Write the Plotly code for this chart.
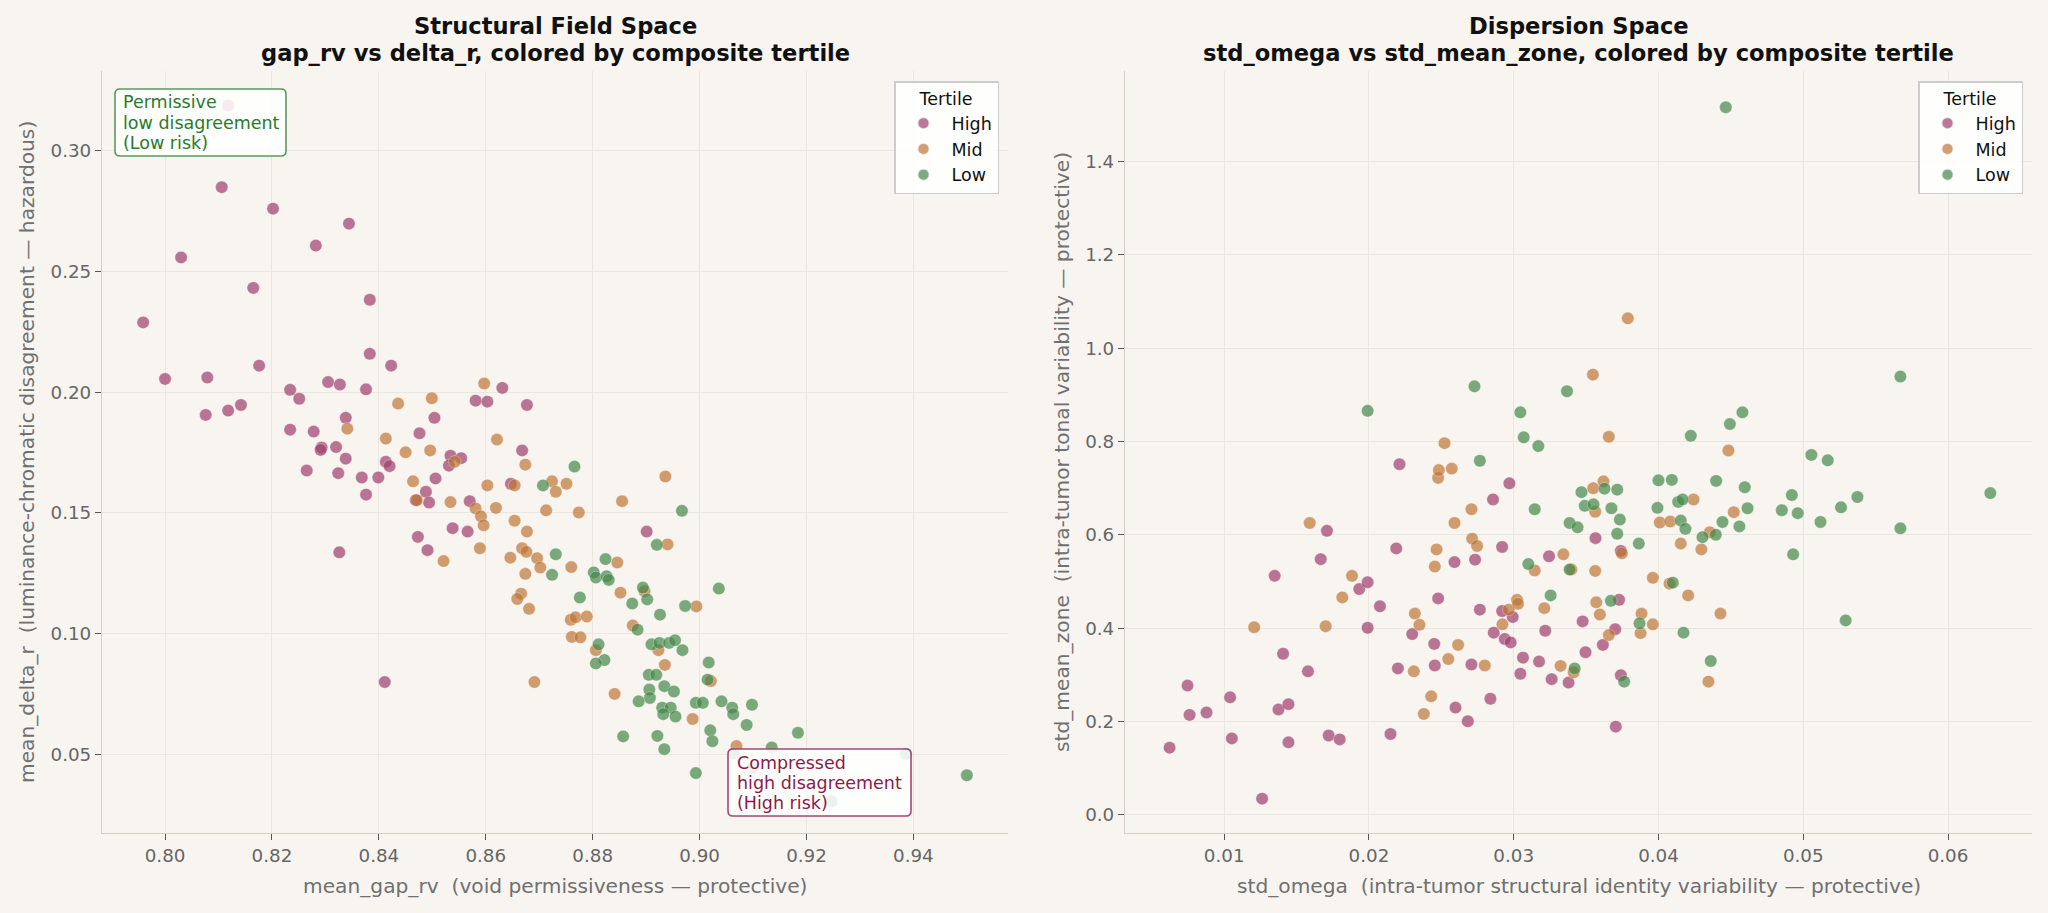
import plotly.graph_objects as go

# ---------------- data: left panel (mean_gap_rv vs mean_delta_r) ----------------
left_high_x = [0.8118, 0.8106, 0.8202, 0.8344, 0.8282, 0.8030, 0.8165, 0.8383, 0.7959, 0.8383,
               0.8176, 0.8423, 0.8000, 0.8079, 0.8305, 0.8327, 0.8234, 0.8376, 0.8251, 0.8076,
               0.8118, 0.8142, 0.8338, 0.8234, 0.8278, 0.8293, 0.8291, 0.8320, 0.8338, 0.8265,
               0.8324, 0.8368, 0.8399, 0.8376, 0.8326, 0.8411, 0.8413, 0.8420, 0.8476, 0.8504,
               0.8506, 0.8488, 0.8494, 0.8473, 0.8491, 0.8534, 0.8554, 0.8531, 0.8538, 0.8566,
               0.8570, 0.8581, 0.8603, 0.8631, 0.8677, 0.8668, 0.8647, 0.8469, 0.8901]
left_high_y = [0.3187, 0.2849, 0.2760, 0.2698, 0.2607, 0.2558, 0.2432, 0.2383, 0.2289, 0.2159,
               0.2110, 0.2110, 0.2055, 0.2061, 0.2042, 0.2032, 0.2010, 0.2012, 0.1973, 0.1906,
               0.1924, 0.1947, 0.1894, 0.1845, 0.1837, 0.1771, 0.1761, 0.1773, 0.1725, 0.1676,
               0.1665, 0.1647, 0.1647, 0.1576, 0.1337, 0.0800, 0.1712, 0.1694, 0.1830, 0.1894,
               0.1643, 0.1588, 0.1543, 0.1401, 0.1346, 0.1737, 0.1727, 0.1696, 0.1437, 0.1423,
               0.1549, 0.1965, 0.1961, 0.2018, 0.1947, 0.1759, 0.1621, 0.1553, 0.1423]

left_mid_x = [0.8341, 0.8436, 0.8499, 0.8413, 0.8450, 0.8496, 0.8464, 0.8471, 0.8542, 0.8597,
              0.8621, 0.8603, 0.8534, 0.8581, 0.8591, 0.8596, 0.8619, 0.8589, 0.8521, 0.8654,
              0.8674, 0.8654, 0.8677, 0.8668, 0.8676, 0.8646, 0.8696, 0.8702, 0.8674, 0.8666,
              0.8659, 0.8681, 0.8691, 0.8724, 0.8731, 0.8713, 0.8751, 0.8774, 0.8760, 0.8759,
              0.8768, 0.8789, 0.8761, 0.8777, 0.8936, 0.8855, 0.8846, 0.8852, 0.8897, 0.8875,
              0.8806, 0.8841, 0.8940, 0.8923, 0.8935, 0.8994, 0.9021, 0.8987, 0.9069]
left_mid_y = [0.1849, 0.1953, 0.1975, 0.1808, 0.1751, 0.1759, 0.1631, 0.1553, 0.1712, 0.2036,
              0.1804, 0.1614, 0.1545, 0.1519, 0.1486, 0.1449, 0.1521, 0.1354, 0.1301, 0.1614,
              0.1700, 0.1468, 0.1423, 0.1354, 0.1339, 0.1315, 0.1313, 0.1274, 0.1248, 0.1166,
              0.1144, 0.1103, 0.0800, 0.1631, 0.1588, 0.1511, 0.1621, 0.1502, 0.1276, 0.1058,
              0.1068, 0.1071, 0.0987, 0.0985, 0.1651, 0.1549, 0.1295, 0.1170, 0.1176, 0.1034,
              0.0932, 0.0751, 0.1370, 0.0932, 0.0871, 0.1113, 0.0804, 0.0647, 0.0535]

left_low_x = [0.8707, 0.8731, 0.8724, 0.8766, 0.8776, 0.8967, 0.8920, 0.8824, 0.8802, 0.8806,
              0.8826, 0.8830, 0.8894, 0.8902, 0.8874, 0.8926, 0.8973, 0.9036, 0.8884, 0.8811,
              0.8822, 0.8806, 0.8910, 0.8925, 0.8943, 0.8954, 0.8968, 0.9017, 0.9015, 0.8905,
              0.8919, 0.8934, 0.8952, 0.8906, 0.8907, 0.8886, 0.8930, 0.8946, 0.8932, 0.8955,
              0.8993, 0.9006, 0.9041, 0.9061, 0.9063, 0.9098, 0.9088, 0.9020, 0.9024, 0.8857,
              0.8921, 0.8934, 0.9184, 0.9135, 0.9064, 0.9386, 0.8993, 0.9500, 0.9247, 0.9100]
left_low_y = [0.1614, 0.1329, 0.1244, 0.1692, 0.1150, 0.1509, 0.1368, 0.1309, 0.1254, 0.1233,
              0.1238, 0.1223, 0.1191, 0.1142, 0.1125, 0.1079, 0.1115, 0.1187, 0.1017, 0.0956,
              0.0891, 0.0877, 0.0956, 0.0962, 0.0962, 0.0973, 0.0932, 0.0881, 0.0810, 0.0830,
              0.0830, 0.0783, 0.0761, 0.0769, 0.0734, 0.0720, 0.0694, 0.0694, 0.0667, 0.0657,
              0.0714, 0.0714, 0.0720, 0.0694, 0.0667, 0.0706, 0.0622, 0.0600, 0.0555, 0.0575,
              0.0577, 0.0522, 0.0590, 0.0529, 0.0504, 0.0502, 0.0423, 0.0414, 0.0306, 0.0445]

# ---------------- data: right panel (std_omega vs std_mean_zone) ----------------
right_high_x = [0.00623, 0.00747, 0.00761, 0.00878, 0.01041, 0.01053, 0.01262, 0.01349, 0.01407, 0.01375,
                0.01444, 0.01444, 0.01579, 0.01667, 0.01710, 0.01722, 0.01798, 0.01933, 0.01991, 0.01991,
                0.02076, 0.02149, 0.02189, 0.02211, 0.02200, 0.02299, 0.02451, 0.02455, 0.02478, 0.02591,
                0.02598, 0.02683, 0.02708, 0.02733, 0.02766, 0.02839, 0.02857, 0.02862, 0.02920, 0.02970,
                0.02920, 0.02993, 0.02938, 0.02979, 0.03046, 0.03064, 0.03175, 0.03218, 0.03244, 0.03262,
                0.03379, 0.03476, 0.03496, 0.03565, 0.03740, 0.03728, 0.03701, 0.03616, 0.03740, 0.03705]
right_high_y = [0.1438, 0.2770, 0.2141, 0.2193, 0.2518, 0.1637, 0.0346, 0.5121, 0.3452, 0.2256,
                0.2371, 0.1553, 0.3075, 0.5478, 0.6086, 0.1700, 0.1616, 0.4837, 0.4984, 0.4008,
                0.4470, 0.1731, 0.5708, 0.7513, 0.3137, 0.3872, 0.3662, 0.3200, 0.4638, 0.5415,
                0.2298, 0.2004, 0.3221, 0.5467, 0.4397, 0.2487, 0.6758, 0.3903, 0.5740, 0.7104,
                0.4365, 0.4239, 0.3767, 0.3694, 0.3022, 0.3368, 0.3284, 0.3945, 0.5540, 0.2907,
                0.2833, 0.4145, 0.3484, 0.5929, 0.5656, 0.4607, 0.3977, 0.3641, 0.2991, 0.1889]

right_mid_x = [0.01207, 0.01591, 0.01701, 0.01816, 0.01883, 0.02317, 0.02349, 0.02310, 0.02379, 0.02430,
               0.02455, 0.02467, 0.02478, 0.02483, 0.02522, 0.02572, 0.02591, 0.02548, 0.02616, 0.02708,
               0.02713, 0.02747, 0.02800, 0.02922, 0.02966, 0.03023, 0.03030, 0.03145, 0.03211, 0.03343,
               0.03398, 0.03324, 0.03414, 0.03788, 0.03547, 0.03657, 0.04483, 0.03620, 0.03549, 0.03563,
               0.04242, 0.04009, 0.04081, 0.04520, 0.04354, 0.04154, 0.04296, 0.03747, 0.03563, 0.03961,
               0.04076, 0.04205, 0.03570, 0.03595, 0.03883, 0.03961, 0.04428, 0.03657, 0.03876, 0.04345]
right_mid_y = [0.4019, 0.6254, 0.4040, 0.4659, 0.5121, 0.4313, 0.4071, 0.3075, 0.2162, 0.2539,
               0.5320, 0.5687, 0.7219, 0.7387, 0.7964, 0.7419, 0.6254, 0.3337, 0.3641, 0.6548,
               0.5918, 0.5761, 0.3200, 0.4082, 0.4397, 0.4607, 0.4523, 0.5236, 0.4428, 0.5582,
               0.5257, 0.3190, 0.3054, 1.0640, 0.9433, 0.8101, 0.7807, 0.7146, 0.6999, 0.6495,
               0.6758, 0.6264, 0.6285, 0.6485, 0.6055, 0.5813, 0.5687, 0.5603, 0.5226, 0.5079,
               0.4953, 0.4701, 0.4554, 0.4292, 0.4313, 0.4082, 0.4313, 0.3851, 0.3893, 0.2854]

right_low_x = [0.01991, 0.02729, 0.02766, 0.03046, 0.03069, 0.03170, 0.03145, 0.03101, 0.03255, 0.03368,
               0.03386, 0.03441, 0.03386, 0.03421, 0.04465, 0.05671, 0.04580, 0.04493, 0.04223, 0.05056,
               0.05169, 0.04000, 0.04092, 0.04398, 0.04596, 0.04921, 0.05374, 0.06292, 0.03468, 0.03627,
               0.03715, 0.03491, 0.03551, 0.03675, 0.03993, 0.04136, 0.04166, 0.04615, 0.04852, 0.04962,
               0.05261, 0.03733, 0.04154, 0.04186, 0.04442, 0.04559, 0.05119, 0.05671, 0.03715, 0.04304,
               0.04396, 0.03864, 0.04930, 0.04099, 0.03671, 0.03869, 0.04173, 0.05293, 0.04361, 0.03763]
right_low_y = [0.8657, 0.9182, 0.7587, 0.8625, 0.8090, 0.7901, 0.6548, 0.5373, 0.4701, 0.9077,
               0.6254, 0.6160, 0.5257, 0.3137, 1.5163, 0.9391, 0.8625, 0.8374, 0.8122, 0.7713,
               0.7597, 0.7167, 0.7177, 0.7156, 0.7020, 0.6852, 0.6810, 0.6894, 0.6915, 0.6989,
               0.6968, 0.6621, 0.6653, 0.6569, 0.6579, 0.6705, 0.6758, 0.6569, 0.6527, 0.6464,
               0.6590, 0.6327, 0.6306, 0.6128, 0.6275, 0.6180, 0.6275, 0.6139, 0.6023, 0.5950,
               0.6002, 0.5813, 0.5582, 0.4974, 0.4586, 0.4103, 0.3903, 0.4166, 0.3295, 0.2854]

tertile_names = ["High", "Mid", "Low"]
left_x = [left_high_x, left_mid_x, left_low_x]
left_y = [left_high_y, left_mid_y, left_low_y]
right_x = [right_high_x, right_mid_x, right_low_x]
right_y = [right_high_y, right_mid_y, right_low_y]

left_xticks = [0.80, 0.82, 0.84, 0.86, 0.88, 0.90, 0.92, 0.94]
left_yticks = [0.05, 0.10, 0.15, 0.20, 0.25, 0.30]
right_xticks = [0.01, 0.02, 0.03, 0.04, 0.05, 0.06]
right_yticks = [0.0, 0.2, 0.4, 0.6, 0.8, 1.0, 1.2, 1.4]

note_low_lines = ["Permissive", "low disagreement", "(Low risk)"]
note_high_lines = ["Compressed", "high disagreement", "(High risk)"]

# ---------------- styling ----------------
W, H = 2048, 913
BG = "#f8f5f0"
COLORS = {"High": "#9e3e6b", "Mid": "#c07636", "Low": "#44884a"}
FONT = "DejaVu Sans"
TICK_COLOR = "#666666"
GRID = "#ebe6e0"
SPINE = "#d9cfc6"

fig = go.Figure()

for name, xs, ys in zip(tertile_names, left_x, left_y):
    fig.add_trace(go.Scatter(
        x=xs, y=ys, mode="markers", name=name, legend="legend",
        xaxis="x", yaxis="y",
        marker=dict(size=12.5, color=COLORS[name], opacity=0.7,
                    line=dict(color="rgba(255,255,255,0.7)", width=0.6)),
    ))
for name, xs, ys in zip(tertile_names, right_x, right_y):
    fig.add_trace(go.Scatter(
        x=xs, y=ys, mode="markers", name=name, legend="legend2",
        xaxis="x2", yaxis="y2",
        marker=dict(size=12.5, color=COLORS[name], opacity=0.7,
                    line=dict(color="rgba(255,255,255,0.7)", width=0.6)),
    ))

# plot-area pixel boxes
L0, L1 = 102, 1008
R0, R1 = 1125, 2032
T, B = 71, 833


def px(x):
    return x / W


def py(y):
    return 1 - y / H


axis_common = dict(
    showgrid=True, gridcolor=GRID, gridwidth=1, zeroline=False,
    showline=True, linecolor=SPINE, linewidth=1.2, mirror=False,
    ticks="outside", ticklen=6, tickcolor="#555555", tickwidth=1.2,
    tickfont=dict(family=FONT, size=18.3, color=TICK_COLOR),
    automargin=False,
)

legend_common = dict(
    yanchor="top", xanchor="right",
    bgcolor="rgba(255,255,255,0.85)", bordercolor="#cccccc", borderwidth=1.5,
    font=dict(family=FONT, size=17.5, color="#111111"),
    title=dict(text="Tertile", side="top center", font=dict(family=FONT, size=17.5, color="#111111")),
    itemsizing="constant", itemwidth=46,
)

fig.update_layout(
    width=W, height=H,
    paper_bgcolor=BG, plot_bgcolor=BG,
    margin=dict(l=0, r=0, t=0, b=0),
    font=dict(family=FONT, color="#222222"),
    xaxis=dict(domain=[px(L0), px(L1)], range=[0.7882, 0.9577], tickvals=left_xticks,
               tickformat=".2f", anchor="y", **axis_common),
    yaxis=dict(domain=[py(B), py(T)], range=[0.0175, 0.333], tickvals=left_yticks,
               tickformat=".2f", anchor="x", **axis_common),
    xaxis2=dict(domain=[px(R0), px(R1)], range=[0.00315, 0.0658], tickvals=right_xticks,
                tickformat=".2f", anchor="y2", **axis_common),
    yaxis2=dict(domain=[py(B), py(T)], range=[-0.039, 1.594], tickvals=right_yticks,
                tickformat=".1f", anchor="x2", **axis_common),
    legend=dict(x=px(999), y=py(81), **legend_common),
    legend2=dict(x=px(2023), y=py(81), **legend_common),
)

annotations = []
shapes = []

# titles
TITLE_FONT = dict(family=FONT, size=22.6, color="#111111")
for cx, l1, l2 in [((L0 + L1) / 2, "Structural Field Space", "gap_rv vs delta_r, colored by composite tertile"),
                   ((R0 + R1) / 2, "Dispersion Space", "std_omega vs std_mean_zone, colored by composite tertile")]:
    annotations.append(dict(xref="paper", yref="paper", x=px(cx), y=py(26), xanchor="center", yanchor="middle",
                            text="<b>%s</b>" % l1, showarrow=False, font=TITLE_FONT))
    annotations.append(dict(xref="paper", yref="paper", x=px(cx), y=py(53), xanchor="center", yanchor="middle",
                            text="<b>%s</b>" % l2, showarrow=False, font=TITLE_FONT))

# axis titles
ax_font = dict(family=FONT, size=20.2, color="#707070")
annotations += [
    dict(xref="paper", yref="paper", x=px((L0 + L1) / 2), y=py(886), xanchor="center", yanchor="middle",
         text="mean_gap_rv\u00a0 (void permissiveness \u2014 protective)", showarrow=False, font=ax_font),
    dict(xref="paper", yref="paper", x=px((R0 + R1) / 2), y=py(886), xanchor="center", yanchor="middle",
         text="std_omega\u00a0 (intra-tumor structural identity variability \u2014 protective)", showarrow=False, font=ax_font),
    dict(xref="paper", yref="paper", x=px(27), y=py((T + B) / 2), xanchor="center", yanchor="middle", textangle=-90,
         text="mean_delta_r\u00a0 (luminance-chromatic disagreement \u2014 hazardous)", showarrow=False, font=ax_font),
    dict(xref="paper", yref="paper", x=px(1062), y=py((T + B) / 2), xanchor="center", yanchor="middle", textangle=-90,
         text="std_mean_zone\u00a0 (intra-tumor tonal variability \u2014 protective)", showarrow=False, font=ax_font),
]


def rounded_box(x0, y0, x1, y1, r):
    def P(x, y):
        return "%.6f,%.6f" % (px(x), py(y))
    return ("M " + P(x0 + r, y0) + " L " + P(x1 - r, y0) + " Q " + P(x1, y0) + " " + P(x1, y0 + r) +
            " L " + P(x1, y1 - r) + " Q " + P(x1, y1) + " " + P(x1 - r, y1) +
            " L " + P(x0 + r, y1) + " Q " + P(x0, y1) + " " + P(x0, y1 - r) +
            " L " + P(x0, y0 + r) + " Q " + P(x0, y0) + " " + P(x0 + r, y0) + " Z")


# region notes: rounded boxes + text lines
notes = [
    (115, 89, 286, 156, "#5a9a5f", "#2a7a2e", 121, [102, 123, 143], note_low_lines),
    (728, 749, 911, 816, "#a04a73", "#8b1a4b", 735, [763, 783, 803], note_high_lines),
]
for x0, y0, x1, y1, bc, tc, tx, lys, lines in notes:
    shapes.append(dict(type="path", xref="paper", yref="paper", layer="above",
                       path=rounded_box(x0, y0, x1, y1, 5),
                       fillcolor="rgba(255,255,255,0.86)", line=dict(color=bc, width=1.6)))
    for ly, txt in zip(lys, lines):
        annotations.append(dict(xref="paper", yref="paper", x=px(tx), y=py(ly), xanchor="left", yanchor="middle",
                                text=txt, showarrow=False,
                                font=dict(family=FONT, size=17.5, color=tc)))

fig.update_layout(annotations=annotations, shapes=shapes)

fig.write_html("out.html")
